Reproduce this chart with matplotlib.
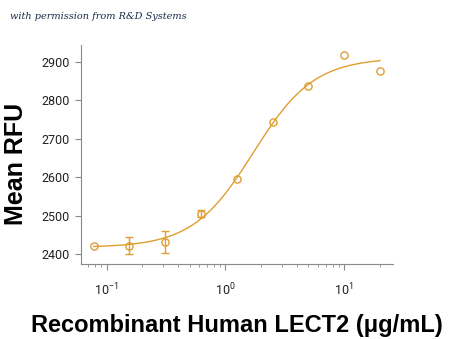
import numpy as np
import matplotlib
matplotlib.use('Agg')
import matplotlib.pyplot as plt
from matplotlib.ticker import LogLocator, FixedLocator, NullFormatter

# Dados
conc = [0.078, 0.156, 0.3125, 0.625, 1.25, 2.5, 5, 10, 20]   # ug/mL
rfu = [2422, 2422, 2433, 2506, 2595, 2744, 2837, 2918, 2875]
rfu_err = [0, 22, 28, 8, 0, 0, 0, 0, 0]

# parametros do ajuste 4PL (estimados da curva)
fit_bottom = 2418
fit_top = 2910
fit_ec50 = 1.72
fit_hill = 1.7

cor = '#DF9E30'
cinza = '#8a8a8a'

plt.rcParams['mathtext.fontset'] = 'custom'
plt.rcParams['mathtext.rm'] = 'Roboto'
plt.rcParams['mathtext.it'] = 'Roboto'

fig = plt.figure(figsize=(4.5, 3.39), dpi=100)
ax = fig.add_axes([0.18, 0.221, 0.693, 0.646])

xc = np.logspace(np.log10(conc[0]), np.log10(conc[-1]), 200)
yc = fit_bottom + (fit_top - fit_bottom) / (1 + (fit_ec50 / xc) ** fit_hill)
ax.plot(xc, yc, color=cor, lw=1.0)

ax.plot(conc, rfu, 'o', mfc='none', mec=cor, ms=5.2, mew=1.0)

# barras de erro so onde existem
com_erro = [i for i, e in enumerate(rfu_err) if e > 0]
ax.errorbar([conc[i] for i in com_erro], [rfu[i] for i in com_erro],
            yerr=[rfu_err[i] for i in com_erro], fmt='none', ecolor=cor,
            elinewidth=1.0, capsize=3, capthick=1.0)

ax.set_xscale('log')
ax.set_xlim(0.061, 25.7)
ax.set_ylim(2375, 2943)
ax.set_yticks([2400, 2500, 2600, 2700, 2800, 2900])
ax.xaxis.set_major_locator(FixedLocator([0.1, 1, 10]))
ax.xaxis.set_minor_locator(LogLocator(base=10, subs=np.arange(2, 10)))
ax.xaxis.set_minor_formatter(NullFormatter())
ax.set_xticklabels(['$\\mathregular{10^{-1}}$', '$\\mathregular{10^{0}}$', '$\\mathregular{10^{1}}$'])

for s in ['top', 'right']:
    ax.spines[s].set_visible(False)
for s in ['left', 'bottom']:
    ax.spines[s].set_color(cinza)
    ax.spines[s].set_linewidth(0.8)

ax.tick_params(axis='both', which='major', length=4, width=0.8, color=cinza,
               labelsize=9, labelcolor='#222222', pad=4)
ax.tick_params(axis='x', which='minor', length=2.5, width=0.6, color=cinza)
ax.tick_params(axis='x', which='major', pad=9)
for lab in ax.get_xticklabels() + ax.get_yticklabels():
    lab.set_family('Roboto')

ax.set_xlabel('Recombinant Human LECT2 (\u03bcg/mL)', fontsize=17, fontweight='bold',
              family='Liberation Sans', labelpad=11)
ax.set_ylabel('Mean RFU', fontsize=18, fontweight='bold', family='Liberation Sans')
ax.yaxis.set_label_coords(-0.17, 0.457)

fig.text(0.022, 0.945, 'with permission from R&D Systems', fontsize=7, style='italic',
         family='DejaVu Serif', color='#1a2a4a')

fig.savefig('out.png', dpi=100)
